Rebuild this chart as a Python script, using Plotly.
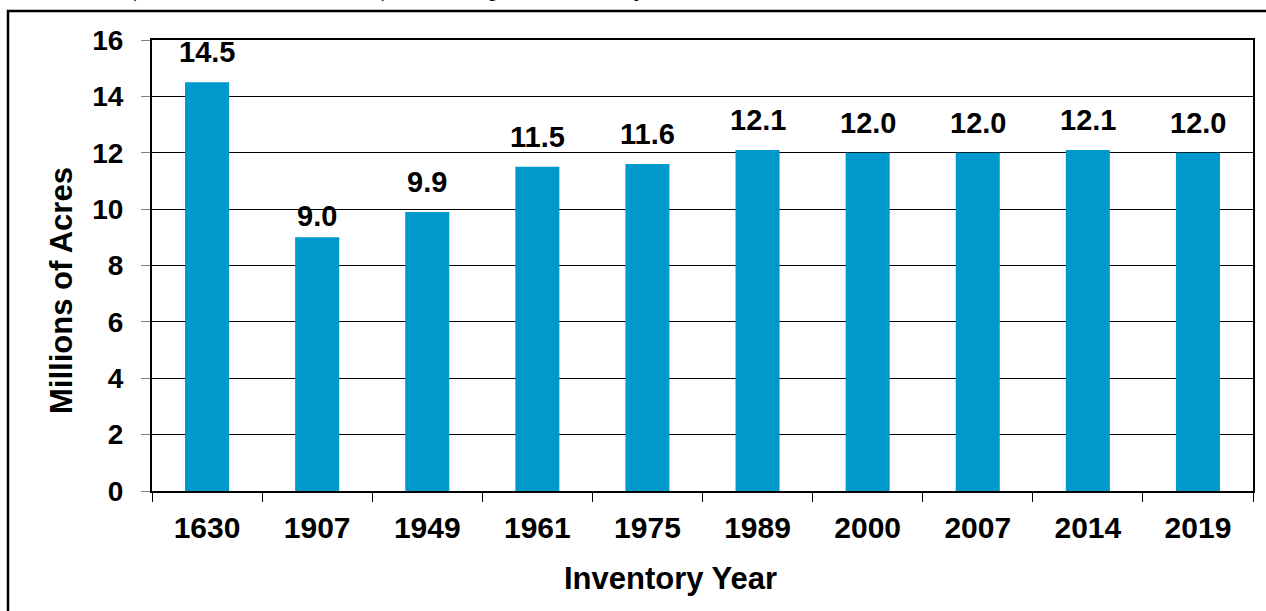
import plotly.graph_objects as go

# Forest area by inventory year
years = ['1630', '1907', '1949', '1961', '1975', '1989', '2000', '2007', '2014', '2019']
acres = [14.5, 9.0, 9.9, 11.5, 11.6, 12.1, 12.0, 12.0, 12.1, 12.0]
labels = [f'{v:.1f}' for v in acres]

FONT = 'Liberation Sans, Arial, sans-serif'
BAR_COLOR = '#0099CC'

W, H = 1266, 611
L, R, T, B = 152, 13, 40, 120
plot_w = W - L - R
plot_h = H - T - B


def px_x(px):
    return (px - L) / plot_w


def px_y(py):
    return (H - B - py) / plot_h


# the 1907 label sits a little closer to its bar in the original
label_nudge = {'1907': -9}

fig = go.Figure(go.Bar(
    x=years,
    y=acres,
    marker_color=BAR_COLOR,
    marker_line_width=0,
    hoverinfo='x+y',
))

# value labels floating above the bars (x by category index)
for i, (yr, v, lab) in enumerate(zip(years, acres, labels)):
    fig.add_annotation(
        x=i, y=v, text=lab, showarrow=False,
        yanchor='bottom', yshift=12 + label_nudge.get(yr, 0),
        font=dict(family=FONT, size=29, color='black', weight=700),
    )

# axis titles (placed off-centre like the original)
title_font = dict(family=FONT, size=31, color='black', weight=700)
fig.add_annotation(x=px_x(670), y=px_y(578), xref='paper', yref='paper',
                   text='Inventory Year', showarrow=False,
                   xanchor='center', yanchor='middle', font=title_font)
fig.add_annotation(x=px_x(61), y=px_y(291), xref='paper', yref='paper',
                   text='Millions of Acres', showarrow=False, textangle=-90,
                   xanchor='center', yanchor='middle', font=title_font)

# fragments of the document text cut off at the top of the page
for ch, px in [('(', 132), (')', 385), ('p', 495), ('y', 640)]:
    fig.add_annotation(
        x=px_x(px), y=px_y(4), xref='paper', yref='paper',
        text=ch, showarrow=False, yanchor='bottom', xanchor='center',
        font=dict(family='Liberation Serif, Times New Roman, serif', size=26, color='black'),
    )

# outer frame around the whole chart
fig.add_shape(
    type='rect', xref='paper', yref='paper',
    x0=px_x(8), x1=1.05,
    y0=-0.5, y1=px_y(11),
    line=dict(color='black', width=2.5),
)

fig.update_layout(
    width=W, height=H,
    margin=dict(l=L, r=R, t=T, b=B),
    paper_bgcolor='white',
    plot_bgcolor='white',
    bargap=0.6,
    showlegend=False,
    font=dict(family=FONT, color='black'),
)

fig.update_xaxes(
    type='category',
    range=[-0.5, len(years) - 0.5],
    tickson='boundaries',
    tickangle=0,
    ticks='outside', ticklen=9, tickcolor='black', tickwidth=1,
    showline=True, linecolor='black', linewidth=2, mirror=True,
    showgrid=False,
    tickfont=dict(family=FONT, size=30, color='black', weight=700),
    ticklabelstandoff=9,
)

fig.update_yaxes(
    range=[0, 16], dtick=2,
    showgrid=True, gridcolor='black', gridwidth=1,
    zeroline=False,
    ticks='outside', ticklen=9, tickcolor='#808080', tickwidth=1,
    showline=True, linecolor='black', linewidth=2, mirror=True,
    tickfont=dict(family=FONT, size=28, color='black', weight=700),
    ticklabelstandoff=12,
)

fig.write_html('out.html', config={'displayModeBar': False},
               post_script="document.body.style.margin='0';")
